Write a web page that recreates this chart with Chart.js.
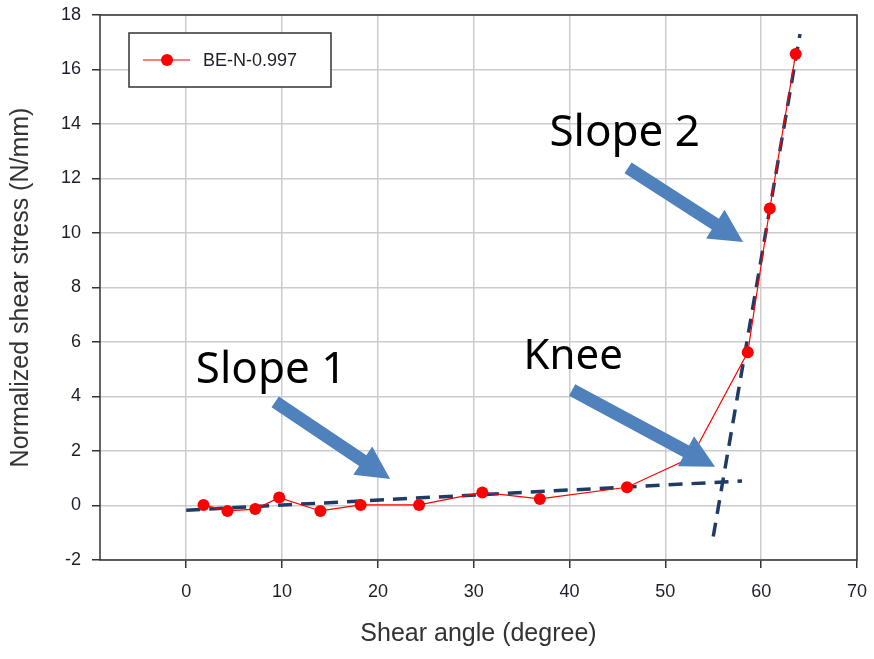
<!DOCTYPE html>
<html>
<head>
<meta charset="utf-8">
<script src="https://cdn.jsdelivr.net/npm/chart.js@4/dist/chart.umd.min.js"></script>
<style>
  body { margin: 0; background: #fff; }
  #wrap { width: 874px; height: 659px; }
</style>
</head>
<body>
<div id="wrap"><canvas id="shearChart" width="874" height="659"></canvas></div>
<script>
// measured curve BE-N-0.997
var seriesName = 'BE-N-0.997';
var shearAngle  = [1.8, 4.3, 7.2, 9.7, 14.0, 18.2, 24.3, 30.9, 36.9, 46.0, 52.7, 58.6, 60.9, 63.6];
var shearStress = [0.02, -0.2, -0.13, 0.29, -0.2, 0.02, 0.02, 0.48, 0.24, 0.67, 1.76, 5.62, 10.9, 16.57];

// fitted straight lines for the two regimes
var slope1X = [0, 58.0];
var slope1Y = [-0.17, 0.9];
var slope2X = [55.0, 64.05];
var slope2Y = [-1.14, 17.3];

var xTicks = [0, 10, 20, 30, 40, 50, 60, 70];
var yTicks = [-2, 0, 2, 4, 6, 8, 10, 12, 14, 16, 18];

// callouts (text anchor + arrow, in data units)
var calloutText  = ['Slope 1', 'Slope 2', 'Knee'];
var calloutSize  = [44, 44, 42];
var calloutTextX = [1.0, 37.9, 35.2];
var calloutTextY = [4.5, 13.2, 5.0];
var arrowFromX = [9.28, 46.11, 40.27];
var arrowFromY = [3.8, 12.39, 4.24];
var arrowToX   = [21.28, 58.11, 55.19];
var arrowToY   = [0.97, 9.67, 1.42];

function toPoints(xs, ys) {
  return xs.map(function(x, i) { return {x: x, y: ys[i]}; });
}

var frameColor = '#333333';
var tickFont = {family: 'Liberation Sans, Arial, sans-serif', size: 18};
var titleFont = {family: 'Liberation Sans, Arial, sans-serif', size: 25};

// box around the plot area
var framePlugin = {
  id: 'frame',
  beforeDatasetsDraw: function(chart) {
    var a = chart.chartArea, ctx = chart.ctx;
    ctx.save();
    ctx.strokeStyle = frameColor;
    ctx.lineWidth = 1.5;
    ctx.strokeRect(a.left, a.top, a.right - a.left, a.bottom - a.top);
    ctx.restore();
  }
};

// blue arrows and their labels
var calloutPlugin = {
  id: 'callouts',
  afterDatasetsDraw: function(chart) {
    var ctx = chart.ctx, xs = chart.scales.x, ys = chart.scales.y;
    ctx.save();
    ctx.fillStyle = '#4f81bd';
    for (var i = 0; i < calloutText.length; i++) {
      var x0 = xs.getPixelForValue(arrowFromX[i]), y0 = ys.getPixelForValue(arrowFromY[i]);
      var x1 = xs.getPixelForValue(arrowToX[i]),   y1 = ys.getPixelForValue(arrowToY[i]);
      var len = Math.hypot(x1 - x0, y1 - y0);
      var ux = (x1 - x0) / len, uy = (y1 - y0) / len;
      var nx = -uy, ny = ux;
      var shaft = 6.5, headLen = 33, headHalf = 17;
      var bx = x1 - ux * headLen, by = y1 - uy * headLen;
      ctx.beginPath();
      ctx.moveTo(x0 + nx * shaft, y0 + ny * shaft);
      ctx.lineTo(bx + nx * shaft, by + ny * shaft);
      ctx.lineTo(bx + nx * headHalf, by + ny * headHalf);
      ctx.lineTo(x1, y1);
      ctx.lineTo(bx - nx * headHalf, by - ny * headHalf);
      ctx.lineTo(bx - nx * shaft, by - ny * shaft);
      ctx.lineTo(x0 - nx * shaft, y0 - ny * shaft);
      ctx.closePath();
      ctx.fill();
    }
    ctx.fillStyle = '#000';
    ctx.textAlign = 'left';
    ctx.textBaseline = 'alphabetic';
    for (var j = 0; j < calloutText.length; j++) {
      ctx.font = calloutSize[j] + 'px "Noto Sans", "Open Sans", sans-serif';
      ctx.fillText(calloutText[j], xs.getPixelForValue(calloutTextX[j]), ys.getPixelForValue(calloutTextY[j]));
    }
    ctx.restore();
  }
};

// legend box inside the plot
var legendBoxPlugin = {
  id: 'legendBox',
  afterDraw: function(chart) {
    var a = chart.chartArea, ctx = chart.ctx;
    var left = a.left + 29, top = a.top + 18, w = 202, h = 54;
    var cy = top + h / 2;
    ctx.save();
    ctx.fillStyle = '#fff';
    ctx.fillRect(left, top, w, h);
    ctx.strokeStyle = '#333';
    ctx.lineWidth = 1.5;
    ctx.strokeRect(left, top, w, h);
    ctx.strokeStyle = '#ff0000';
    ctx.lineWidth = 1.2;
    ctx.beginPath();
    ctx.moveTo(left + 14, cy);
    ctx.lineTo(left + 61, cy);
    ctx.stroke();
    ctx.fillStyle = '#ff0000';
    ctx.beginPath();
    ctx.arc(left + 38, cy, 6, 0, Math.PI * 2);
    ctx.fill();
    ctx.fillStyle = '#1e1e2a';
    ctx.font = '18px "Liberation Sans", Arial, sans-serif';
    ctx.textBaseline = 'middle';
    ctx.fillText(seriesName, left + 74, cy + 1);
    ctx.restore();
  }
};

new Chart(document.getElementById('shearChart'), {
  type: 'scatter',
  data: {
    datasets: [{
      label: seriesName,
      data: toPoints(shearAngle, shearStress),
      showLine: true,
      borderColor: '#ff0000',
      backgroundColor: '#ff0000',
      borderWidth: 1.2,
      pointRadius: 6,
      pointHoverRadius: 6,
      pointBorderWidth: 0
    }, {
      label: 'Slope 1',
      data: toPoints(slope1X, slope1Y),
      showLine: true,
      borderColor: '#1f3b66',
      borderWidth: 3.5,
      borderDash: [14, 9],
      pointRadius: 0
    }, {
      label: 'Slope 2',
      data: toPoints(slope2X, slope2Y),
      showLine: true,
      borderColor: '#1f3b66',
      borderWidth: 3.5,
      borderDash: [14, 9],
      pointRadius: 0
    }]
  },
  options: {
    responsive: false,
    animation: false,
    layout: { padding: { top: 15, right: 17, left: 0, bottom: 0 } },
    plugins: {
      legend: { display: false },
      tooltip: { enabled: false }
    },
    scales: {
      x: {
        type: 'linear',
        min: -9,
        max: 70,
        afterBuildTicks: function(scale) {
          scale.ticks = xTicks.map(function(v) { return {value: v}; });
        },
        afterFit: function(scale) {
          scale.height = 99;
          scale.paddingLeft = 0;
          scale.paddingRight = 0;
        },
        grid: { color: '#cccccc', lineWidth: 1.5, tickLength: 8, tickColor: frameColor, tickWidth: 1.5 },
        border: { display: false },
        ticks: { font: tickFont, color: '#1e1e2a', padding: 13, maxRotation: 0 },
        title: { display: true, text: 'Shear angle (degree)', font: titleFont, color: '#333', padding: { top: 0, bottom: 10 } }
      },
      y: {
        type: 'linear',
        min: -2,
        max: 18,
        afterBuildTicks: function(scale) {
          scale.ticks = yTicks.map(function(v) { return {value: v}; });
        },
        afterFit: function(scale) {
          scale.width = 100;
          scale.paddingTop = 0;
          scale.paddingBottom = 0;
        },
        grid: { color: '#cccccc', lineWidth: 1.5, tickLength: 8, tickColor: frameColor, tickWidth: 1.5 },
        border: { display: false },
        ticks: { font: tickFont, color: '#1e1e2a', padding: 11 },
        title: { display: true, text: 'Normalized shear stress (N/mm)', font: titleFont, color: '#333', padding: { top: 6, bottom: 0 } }
      }
    }
  },
  plugins: [framePlugin, calloutPlugin, legendBoxPlugin]
});
</script>
</body>
</html>
